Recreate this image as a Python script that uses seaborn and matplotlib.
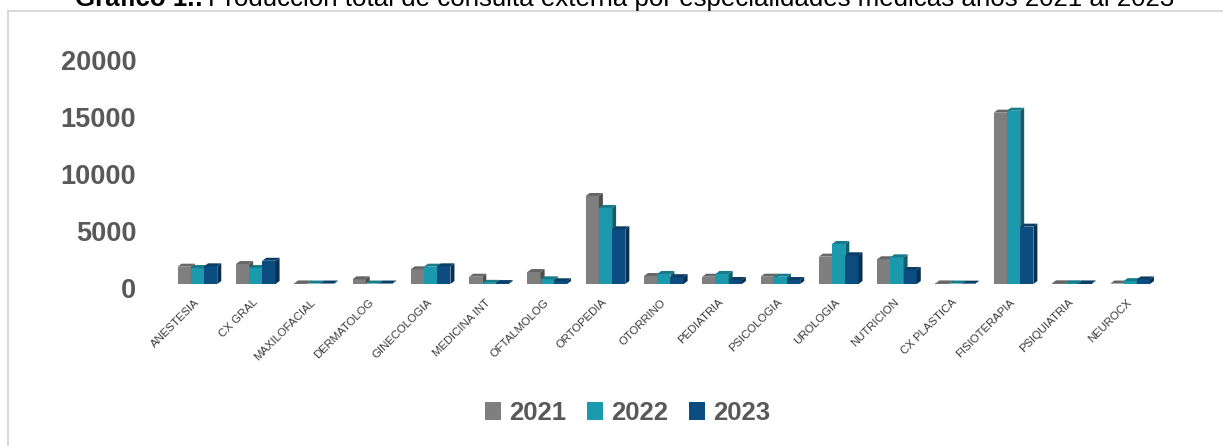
import numpy as np
import pandas as pd
import matplotlib
matplotlib.use("Agg")
import matplotlib.pyplot as plt
import matplotlib.transforms as mtransforms
from matplotlib.patches import Polygon, Rectangle
from matplotlib.colors import to_rgb
import seaborn as sns

# Consultas externas por especialidad y año
especialidades = ["ANESTESIA", "CX GRAL", "MAXILOFACIAL", "DERMATOLOG", "GINECOLOGIA",
                  "MEDICINA INT", "OFTALMOLOG", "ORTOPEDIA", "OTORRINO", "PEDIATRIA",
                  "PSICOLOGIA", "UROLOGIA", "NUTRICION", "CX PLASTICA", "FISIOTERAPIA",
                  "PSIQUIATRIA", "NEUROCX"]
v2021 = [1520, 1750, 50, 410, 1290, 640, 1050, 7720, 700, 640, 640, 2400, 2170, 50, 15030, 60, 40]
v2022 = [1400, 1400, 40, 40, 1520, 100, 410, 6670, 880, 880, 640, 3510, 2340, 40, 15200, 60, 250]
v2023 = [1550, 2040, 40, 40, 1550, 80, 240, 4800, 600, 350, 350, 2520, 1230, 30, 5030, 50, 400]
anios = ["2021", "2022", "2023"]
colores = ["#7f7f7f", "#1b9aad", "#0c4d81"]
yticks = [0, 5000, 10000, 15000, 20000]
titulo_a = "Gráfico 1.:"
titulo_b = "Producción total de consulta externa por especialidades médicas años 2021 al 2023"

sns.set_theme(style="white")
plt.rcParams["font.family"] = ["Liberation Sans", "DejaVu Sans"]

df = pd.DataFrame({
    "Especialidad": especialidades * 3,
    "Año": np.repeat(anios, len(especialidades)),
    "Consultas": v2021 + v2022 + v2023,
})

W, H = 1223, 446
fig = plt.figure(figsize=(W / 100, H / 100), dpi=100)
ax_left, ax_bottom, ax_w, ax_h = 168.3, 284, 991, 228
ax = fig.add_axes([ax_left / W, (H - ax_bottom) / H, ax_w / W, ax_h / H])

sns.barplot(data=df, x="Especialidad", y="Consultas", hue="Año", palette=colores,
            width=0.68, saturation=1, ax=ax, legend=False, edgecolor="none", linewidth=0)
ax.set_xlim(-0.5, 16.5)
ax.set_ylim(0, 20000)

# pseudo-3D faces: side and top of every column
dx = 4 / (ax_w / 17)
dy = 3 / (ax_h / 20000)
for p in list(ax.patches):
    x0, w, h = p.get_x(), p.get_width(), p.get_height()
    x1 = x0 + w
    base = np.array(to_rgb(p.get_facecolor()))
    z = 2 + x0 * 0.01
    p.set_zorder(z)
    side = Polygon([(x1, 0), (x1 + dx, dy), (x1 + dx, h + dy), (x1, h)], closed=True,
                   facecolor=base * 0.62, edgecolor="none", zorder=z + 0.001, clip_on=False)
    top = Polygon([(x0, h), (x0 + dx, h + dy), (x1 + dx, h + dy), (x1, h)], closed=True,
                  facecolor=base * 0.8, edgecolor="none", zorder=z + 0.002, clip_on=False)
    ax.add_patch(side)
    ax.add_patch(top)

for s in ax.spines.values():
    s.set_visible(False)
ax.set_xlabel("")
ax.set_ylabel("")
ax.grid(False)

ax.set_xticks(range(len(especialidades)))
ax.set_xticklabels(especialidades, rotation=45, ha="right", va="center",
                   rotation_mode="anchor", fontsize=8.2, color="#3a3a3a")
ax.tick_params(axis="x", length=0, pad=12)

ax.set_yticks(yticks)
ax.set_yticklabels([str(v) for v in yticks], fontsize=19.5, fontweight="bold", color="#595959")
ax.tick_params(axis="y", length=0, pad=23)
shift = mtransforms.ScaledTranslation(0, -4.5 / 100, fig.dpi_scale_trans)
for lbl in ax.get_yticklabels():
    lbl.set_transform(lbl.get_transform() + shift)

# legend
handles = [Rectangle((0, 0), 1, 1, facecolor=c, edgecolor="none") for c in colores]
leg = fig.legend(handles, anios, loc="center", bbox_to_anchor=(627.5 / W, 1 - 413 / H),
                 ncol=3, frameon=False, handlelength=0.65, handleheight=0.65,
                 handletextpad=0.3, columnspacing=0.8,
                 prop={"weight": "bold", "size": 18.5})
for t in leg.get_texts():
    t.set_color("#595959")

# chart frame
top_y = 1 - 11 / H
fig.patches.append(Rectangle((8 / W, -0.2), 1.2, top_y + 0.2, transform=fig.transFigure,
                             fill=False, edgecolor="#d9d9d9", linewidth=1.5))

# title: bold prefix followed by regular text, fitted to its span
ty = 1 - 6 / H
x_start, x_end = 75, 1174


def draw_title(size):
    a = fig.text(x_start / W, ty, titulo_a, fontsize=size, fontweight="bold", color="black",
                 va="baseline", ha="left")
    fig.canvas.draw()
    bb = a.get_window_extent(fig.canvas.get_renderer())
    b = fig.text((bb.x1 + 5) / W, ty, titulo_b, fontsize=size, color="black",
                 va="baseline", ha="left")
    fig.canvas.draw()
    return a, b, b.get_window_extent(fig.canvas.get_renderer()).x1


a, b, right = draw_title(18)
size = 18 * (x_end - x_start) / (right - x_start)
a.remove()
b.remove()
draw_title(size)

fig.savefig("out.png", dpi=100)
